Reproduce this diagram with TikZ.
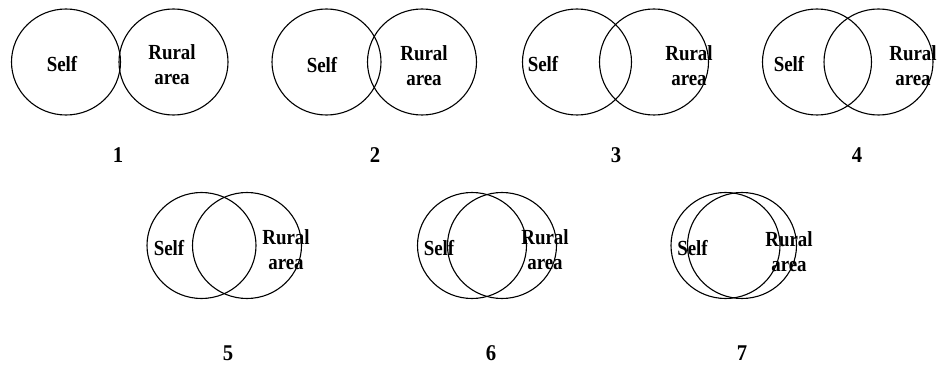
\documentclass[tikz,border=0pt]{standalone}
\usepackage{fontspec}
\setmainfont{Liberation Serif}
\usetikzlibrary{shapes.geometric}
\begin{document}
\begin{tikzpicture}[x=1pt,y=-1pt,
  ring/.style={draw,ellipse,line width=1.1pt,minimum width=109pt,minimum height=106pt,inner sep=0pt},
  word/.style={font=\fontsize{21.5}{25}\selectfont\bfseries,inner sep=0pt,align=center,xscale=0.88,transform shape},
  num/.style={font=\fontsize{22.5}{24}\selectfont\bfseries,inner sep=0pt,xscale=0.92,transform shape}]
\useasboundingbox (0,0) rectangle (939,366);
% each pair: Self circle, Rural area circle, their labels and the stage number
% stage 1
\node[ring] (s1) at (66,62) {};
\node[ring] (r1) at (173.5,62) {};
\node[word] (ts1) at (62,64) {Self};
\node[word] (tr1) at (172,65) {Rural\\area};
\node[num] (n1) at (118,155) {1};
% stage 2
\node[ring] (s2) at (326.5,62) {};
\node[ring] (r2) at (422,62) {};
\node[word] (ts2) at (322,65) {Self};
\node[word] (tr2) at (424,66) {Rural\\area};
\node[num] (n2) at (375,155) {2};
% stage 3
\node[ring] (s3) at (577,62) {};
\node[ring] (r3) at (654,62) {};
\node[word] (ts3) at (543,64) {Self};
\node[word] (tr3) at (689,66) {Rural\\area};
\node[num] (n3) at (616,155) {3};
% stage 4
\node[ring] (s4) at (817,62) {};
\node[ring] (r4) at (878.5,62) {};
\node[word] (ts4) at (789,64) {Self};
\node[word] (tr4) at (913,66) {Rural\\area};
\node[num] (n4) at (857,155) {4};
% stage 5
\node[ring] (s5) at (201.5,245.5) {};
\node[ring] (r5) at (247,245.5) {};
\node[word] (ts5) at (169,248) {Self};
\node[word] (tr5) at (286,250) {Rural\\area};
\node[num] (n5) at (228,353) {5};
% stage 6
\node[ring] (s6) at (472,245.5) {};
\node[ring] (r6) at (502,245.5) {};
\node[word] (ts6) at (439,248) {Self};
\node[word] (tr6) at (545,250) {Rural\\area};
\node[num] (n6) at (491,353) {6};
% stage 7
\node[ring] (s7) at (725.5,245.5) {};
\node[ring] (r7) at (742,245.5) {};
\node[word] (ts7) at (692.5,248) {Self};
\node[word] (tr7) at (789,252) {Rural\\area};
\node[num] (n7) at (742,353) {7};
\end{tikzpicture}
\end{document}
